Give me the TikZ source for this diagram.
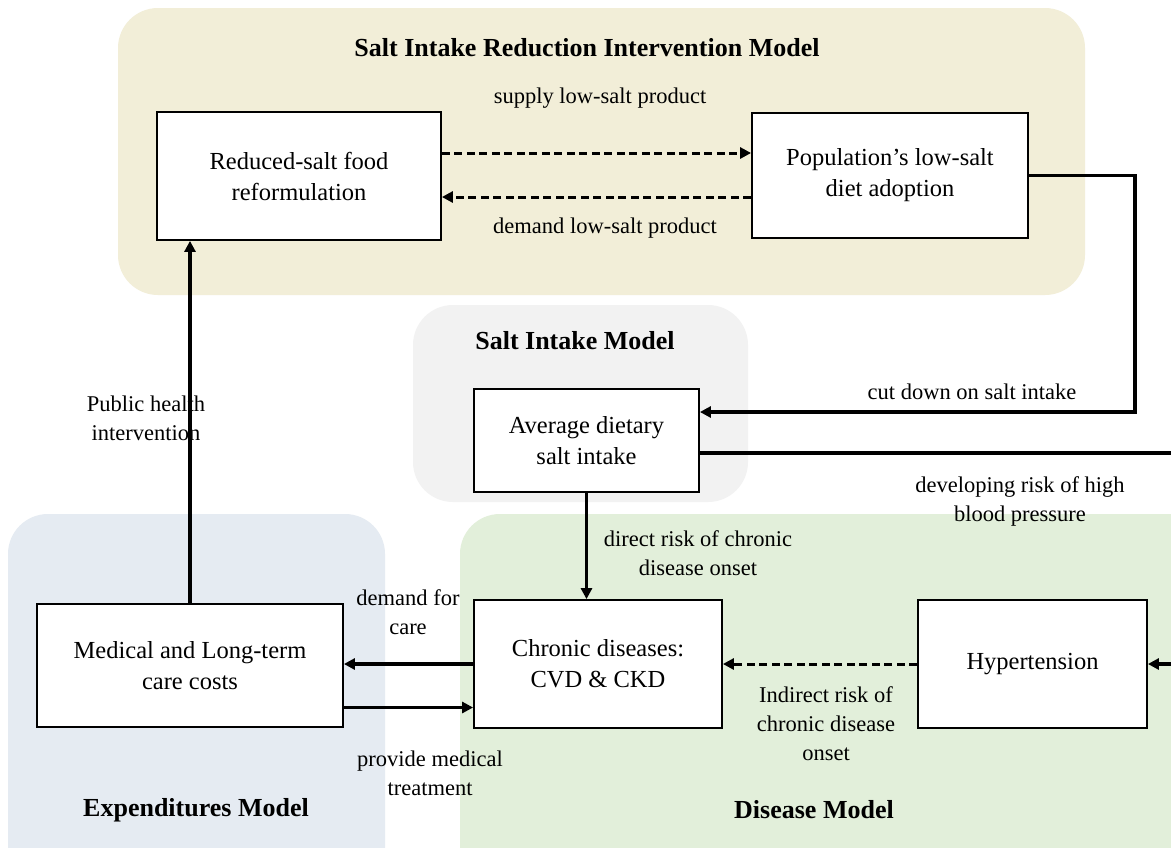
\documentclass[tikz,border=0pt]{standalone}
\usepackage{fontspec}
\setmainfont{Liberation Serif}
\usetikzlibrary{arrows.meta}
\definecolor{yel}{RGB}{242,238,216}
\definecolor{gry}{RGB}{242,242,242}
\definecolor{blu}{RGB}{229,235,242}
\definecolor{grn}{RGB}{226,239,218}
\tikzset{
  region/.style={rounded corners=40pt},
  box/.style={draw=black, line width=1.8pt, fill=white, align=center, inner sep=0pt,
    font=\fontsize{24.5}{31}\selectfont},
  ttl/.style={font=\fontsize{26}{30}\selectfont\bfseries},
  lbl/.style={align=center, font=\fontsize{22.5}{29}\selectfont, inner sep=0pt},
  arr/.style={line width=3.5pt, -{Triangle[length=11pt,width=11pt]}},
  darr/.style={line width=3pt, dash pattern=on 8pt off 4.5pt, -{Triangle[length=11pt,width=11pt]}},
}
\begin{document}
\begin{tikzpicture}[x=1pt,y=-1pt]
\useasboundingbox (0,0) rectangle (1171,847);
\clip (0,0) rectangle (1171,847);
\fill[white] (0,0) rectangle (1171,847);
% regions
\fill[yel, region] (118,8) rectangle (1085,295);
\fill[gry, region] (413,305) rectangle (748,502);
\fill[blu, region] (8,514) rectangle (385,900);
\fill[grn, region] (460,514) rectangle (1230,900);
% titles
\node[ttl] (t1) at (587,48) {Salt Intake Reduction Intervention Model};
\node[ttl] (t2) at (575,341) {Salt Intake Model};
\node[ttl] (t3) at (196,810) {Expenditures Model};
\node[ttl] (t4) at (814,810) {Disease Model};
% boxes
\node[box, minimum width=284pt, minimum height=128pt] (reduced) at (299,176) {Reduced-salt food\\reformulation};
\node[box, minimum width=276pt, minimum height=125pt] (pop) at (890,175.5) {Population's low-salt\\diet adoption};
\node[box, minimum width=225pt, minimum height=103pt] (avg) at (586.5,440.5) {Average dietary\\salt intake};
\node[box, minimum width=248pt, minimum height=128pt] (chronic) at (598,664) {Chronic diseases:\\CVD \& CKD};
\node[box, minimum width=229pt, minimum height=128pt] (hyper) at (1032.5,664) {Hypertension};
\node[box, minimum width=306pt, minimum height=123pt] (medical) at (190,665.5) {Medical and Long-term\\care costs};
% connectors
\draw[darr] ([yshift=23pt]reduced.east) -- ([yshift=23pt]reduced.east -| pop.west);
\draw[darr] ([yshift=-21.5pt]pop.west) -- ([yshift=-21.5pt]pop.west -| reduced.east);
\coordinate (c1) at (1135,412);
\draw[arr] (pop.east) -| (c1) -- ([yshift=28.5pt]avg.east);
\coordinate (c2) at (1195,453);
\draw[arr] ([yshift=-12.5pt]avg.east) -- (c2) |- (hyper.east);
\draw[arr] (avg.south) -- (avg.south |- chronic.north);
\draw[darr] (hyper.west) -- (chronic.east);
\draw[arr] (chronic.west) -- (chronic.west -| medical.east);
\draw[arr] ([yshift=-42pt]medical.east) -- ([yshift=-42pt]medical.east -| chronic.west);
\draw[arr] (medical.north) -- (medical.north |- reduced.south);
% labels
\node[lbl] (l1) at (600,98) {supply low-salt product};
\node[lbl] (l2) at (605,228) {demand low-salt product};
\node[lbl] (l3) at (972,392) {cut down on salt intake};
\node[lbl] (l4) at (1020,501) {developing risk of high\\blood pressure};
\node[lbl] (l5) at (698,553) {direct risk of chronic\\disease onset};
\node[lbl] (l6) at (826,724) {Indirect risk of\\chronic disease\\onset};
\node[lbl] (l7) at (408,612) {demand for\\care};
\node[lbl] (l8) at (430,773) {provide medical\\treatment};
\node[lbl] (l9) at (146,418) {Public health\\intervention};
\end{tikzpicture}
\end{document}
